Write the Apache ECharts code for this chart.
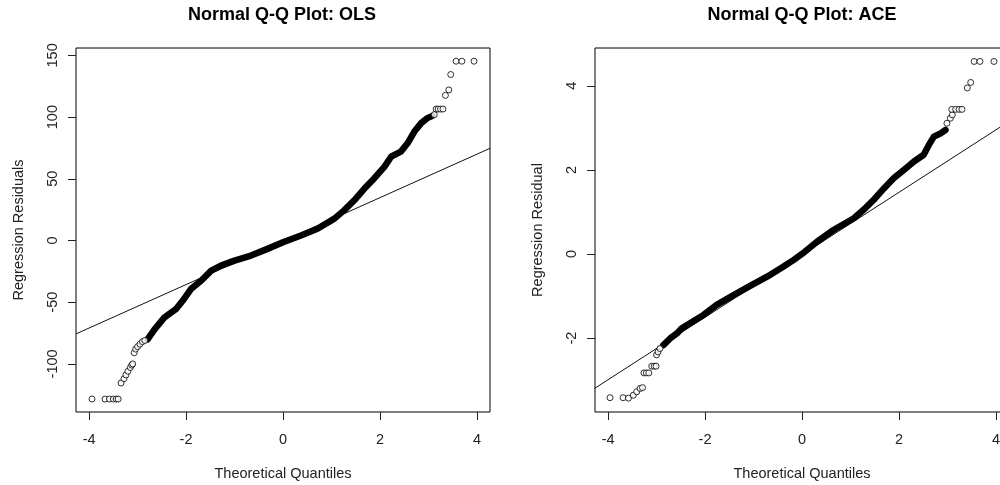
<!DOCTYPE html>
<html>
<head>
<meta charset="utf-8">
<title>Normal Q-Q Plots</title>
<script src="https://cdn.jsdelivr.net/npm/echarts@6/dist/echarts.min.js"></script>
<style>
    html, body { margin: 0; padding: 0; background: #fff; }
    #main { width: 1000px; height: 485px; }
</style>
</head>
<body>
<div id="main"></div>
<script>
// tick labels
var xTicks = [-4, -2, 0, 2, 4]
var olsYTicks = [-100, -50, 0, 50, 100, 150]
var aceYTicks = [-2, 0, 2, 4]

// OLS: dense body of the sample (theoretical quantile, residual)
var olsQ = [-2.79, -2.65, -2.45, -2.21, -2.07, -1.90, -1.69, -1.48, -1.28, -1.0, -0.66, -0.32, 0, 0.37, 0.71, 1.06, 1.26, 1.47, 1.68, 1.88, 2.09, 2.23, 2.43, 2.57, 2.71, 2.85, 2.98, 3.08]
var olsR = [-80, -72, -62.5, -55.7, -48.9, -39.4, -32.6, -24.4, -20.4, -16.3, -12.2, -6.8, -1.4, 4.1, 9.5, 17.7, 24.4, 32.6, 42.1, 50.3, 59.7, 67.9, 72.0, 78.8, 88.3, 95.1, 99.2, 101]
// OLS: sparse tails
var olsTailQ = [-3.94, -3.67, -3.58, -3.50, -3.44, -3.40, -3.34, -3.28, -3.24, -3.20, -3.15, -3.12, -3.10, -3.07, -3.04, -3.0, -2.95, -2.90, -2.85,
    3.12, 3.16, 3.20, 3.25, 3.30, 3.35, 3.42, 3.46, 3.57, 3.69, 3.94]
var olsTailR = [-128.5, -128.5, -128.5, -128.5, -128.5, -128.5, -115.5, -112, -109, -106, -103, -101, -100, -91, -88, -86, -84, -82, -81,
    102, 106.5, 106.5, 106.5, 106.5, 117.6, 122, 134.5, 145.3, 145.3, 145.3]
// OLS: reference line end points
var olsLineQ = [-4.27, 4.27]
var olsLineR = [-75.7, 74.7]

// ACE: dense body
var aceQ = [-2.86, -2.72, -2.58, -2.48, -2.31, -2.03, -1.76, -1.41, -1.07, -0.72, -0.38, -0.17, 0, 0.31, 0.65, 1.07, 1.27, 1.48, 1.69, 1.89, 2.10, 2.31, 2.51, 2.62, 2.72, 2.86, 2.96]
var aceR = [-2.17, -2.01, -1.89, -1.77, -1.65, -1.45, -1.21, -0.98, -0.76, -0.54, -0.30, -0.14, 0, 0.29, 0.57, 0.85, 1.05, 1.29, 1.56, 1.80, 2.0, 2.20, 2.36, 2.60, 2.79, 2.87, 2.95]
// ACE: sparse tails
var aceTailQ = [-3.96, -3.69, -3.58, -3.48, -3.41, -3.34, -3.29, -3.26, -3.21, -3.16, -3.10, -3.05, -3.01, -3.0, -2.97, -2.93,
    2.99, 3.06, 3.10, 3.09, 3.17, 3.24, 3.30, 3.41, 3.48, 3.55, 3.67, 3.96]
var aceTailR = [-3.42, -3.42, -3.43, -3.36, -3.28, -3.2, -3.18, -2.83, -2.83, -2.83, -2.67, -2.67, -2.67, -2.40, -2.33, -2.25,
    3.11, 3.23, 3.31, 3.44, 3.44, 3.44, 3.44, 3.95, 4.08, 4.58, 4.58, 4.58]
// ACE: reference line end points
var aceLineQ = [-4.28, 4.28]
var aceLineR = [-3.2, 3.16]

var FONT = 'Liberation Sans, Arial, sans-serif'
var TEXT = '#222'

function pairs (xs, ys) {
    return xs.map(function (x, i) { return [x, ys[i]] })
}

function xAxisFor (idx) {
    return {
        type: 'value', gridIndex: idx, min: -4.27, max: 4.27,
        name: 'Theoretical Quantiles', nameLocation: 'middle', nameGap: 54,
        nameTextStyle: { fontSize: 14.5, color: TEXT, fontFamily: FONT },
        axisLine: { show: false, onZero: false },
        splitLine: { show: false },
        axisTick: { show: true, length: 8, customValues: xTicks, lineStyle: { color: TEXT } },
        axisLabel: { customValues: xTicks, margin: 20, fontSize: 14.5, color: TEXT, fontFamily: FONT }
    }
}

function yAxisFor (idx, min, max, ticks, name) {
    return {
        type: 'value', gridIndex: idx, min: min, max: max,
        name: name, nameLocation: 'middle', nameGap: 50,
        nameTextStyle: { fontSize: 14.5, color: TEXT, fontFamily: FONT },
        axisLine: { show: false, onZero: false },
        splitLine: { show: false },
        axisTick: { show: true, length: 8, customValues: ticks, lineStyle: { color: TEXT } },
        axisLabel: { customValues: ticks, rotate: 90, margin: 16, fontSize: 14.5, color: TEXT, fontFamily: FONT }
    }
}

function panelSeries (idx, q, r, tq, tr, lq, lr) {
    return [
        {
            type: 'line', xAxisIndex: idx, yAxisIndex: idx, data: pairs(lq, lr),
            symbol: 'none', lineStyle: { color: '#111', width: 1 }, z: 1, silent: true
        },
        {
            type: 'line', xAxisIndex: idx, yAxisIndex: idx, data: pairs(q, r),
            symbol: 'none', lineStyle: { color: '#000', width: 6.5, cap: 'round', join: 'round' }, z: 2
        },
        {
            type: 'scatter', xAxisIndex: idx, yAxisIndex: idx, data: pairs(tq, tr),
            symbol: 'circle', symbolSize: 6,
            itemStyle: { color: '#fff', borderColor: '#000', borderWidth: 1 }, z: 3
        }
    ]
}

var chart = echarts.init(document.getElementById('main'), null, { renderer: 'canvas' })

chart.setOption({
    animation: false,
    backgroundColor: '#fff',
    graphic: [
        { type: 'text', x: 282, y: 15, style: { text: 'Normal Q-Q Plot: OLS', textAlign: 'center', textVerticalAlign: 'middle', font: 'bold 18px ' + FONT, fill: '#000' } },
        { type: 'text', x: 802, y: 15, style: { text: 'Normal Q-Q Plot: ACE', textAlign: 'center', textVerticalAlign: 'middle', font: 'bold 18px ' + FONT, fill: '#000' } }
    ],
    grid: [
        { left: 76, top: 48, width: 414, height: 364, outerBoundsMode: 'none', show: true, borderColor: '#000', borderWidth: 1 },
        // right panel runs past the window edge, as in the original export
        { left: 595, top: 48, width: 414, height: 364, outerBoundsMode: 'none', show: true, borderColor: '#000', borderWidth: 1 }
    ],
    xAxis: [xAxisFor(0), xAxisFor(1)],
    yAxis: [
        yAxisFor(0, -139, 156, olsYTicks, 'Regression Residuals'),
        yAxisFor(1, -3.76, 4.9, aceYTicks, 'Regression Residual')
    ],
    series: panelSeries(0, olsQ, olsR, olsTailQ, olsTailR, olsLineQ, olsLineR)
        .concat(panelSeries(1, aceQ, aceR, aceTailQ, aceTailR, aceLineQ, aceLineR))
})
</script>
</body>
</html>
